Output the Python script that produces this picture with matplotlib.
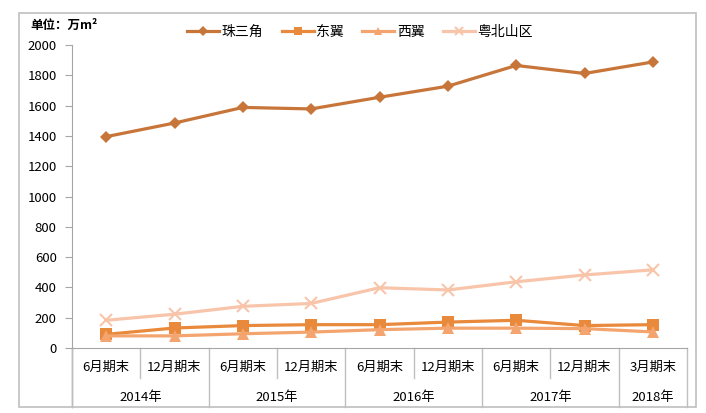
import numpy as np
import matplotlib
matplotlib.use('Agg')
import matplotlib.pyplot as plt
from matplotlib.patches import Rectangle
from matplotlib.lines import Line2D
import matplotlib.transforms as mtransforms

plt.rcParams['font.family'] = ['Noto Sans CJK SC', 'DejaVu Sans']

# 数据（万m²）
periods = ['6月期末', '12月期末', '6月期末', '12月期末', '6月期末', '12月期末', '6月期末', '12月期末', '3月期末']
years = ['2014年', '2015年', '2016年', '2017年', '2018年']
year_spans = [2, 2, 2, 2, 1]

prd = [1395, 1485, 1588, 1578, 1655, 1728, 1865, 1812, 1888]
east = [90, 132, 148, 154, 154, 171, 183, 148, 154]
west = [80, 80, 94, 105, 121, 131, 131, 128, 106]
north = [183, 223, 275, 294, 398, 383, 437, 482, 516]

series = [
    ('珠三角', prd, '#C8753A', 'D', 6),
    ('东翼', east, '#E8893C', 's', 8),
    ('西翼', west, '#F4A46E', '^', 8),
    ('粤北山区', north, '#F8C5AA', 'x', 8),
]

W, H = 706, 413
fig = plt.figure(figsize=(W / 100, H / 100), dpi=100)
ax = fig.add_axes([72 / W, 1 - 348 / H, (687 - 72) / W, (348 - 45) / H])

x = np.arange(len(periods))
for name, vals, col, mk, ms in series:
    ax.plot(x, vals, color=col, lw=2.3, marker=mk, ms=ms, mew=1.5 if mk == 'x' else 0,
            mec=col, mfc=col, label=name, clip_on=False, zorder=3)

ax.set_xlim(-0.5, len(periods) - 0.5)
ax.set_ylim(0, 2000)
ax.set_yticks(np.arange(0, 2001, 200))
ax.tick_params(axis='y', length=5, color='#A6A6A6', labelsize=9.5, pad=6)
ax.set_xticks([])
for s in ['top', 'right']:
    ax.spines[s].set_visible(False)
ax.spines['left'].set_color('#A6A6A6')
ax.spines['bottom'].set_color('#A6A6A6')

# 分类轴表格
trans = mtransforms.blended_transform_factory(ax.transData, ax.transAxes)
axh = 348 - 45
y_mid = -(378 - 348) / axh
y_bot = -(407 - 348) / axh
grid_c = '#BFBFBF'
ax.add_line(Line2D([-0.5, -0.5], [0, y_bot], transform=trans, color='#A6A6A6', lw=1, clip_on=False))
bounds = [-0.5]
for sp in year_spans:
    bounds.append(bounds[-1] + sp)
for i in range(len(periods) + 1):
    b = i - 0.5
    if b in bounds:
        ax.add_line(Line2D([b, b], [0, y_bot], transform=trans, color=grid_c, lw=1, clip_on=False))
    else:
        ax.add_line(Line2D([b, b], [0, y_mid], transform=trans, color=grid_c, lw=1, clip_on=False))
for i, p in enumerate(periods):
    ax.text(i, -(367 - 348) / axh, p, transform=trans, ha='center', va='center', fontsize=9.5)
for j, yr in enumerate(years):
    ax.text((bounds[j] + bounds[j + 1]) / 2, -(397 - 348) / axh, yr, transform=trans,
            ha='center', va='center', fontsize=9.5)

# 单位
fig.text(30 / W, 1 - 25 / H, '单位：万m²', fontsize=9, fontweight='bold', ha='left', va='center')

ax.legend(loc='center', bbox_to_anchor=(360 / W, 1 - 32 / H), bbox_transform=fig.transFigure,
          ncol=4, frameon=False, fontsize=10, handlelength=2.3, columnspacing=1.3,
          handletextpad=0.2, markerscale=0.8)

fig.add_artist(Rectangle((19 / W, 1 - 407 / H), (696 - 19) / W, (407 - 13) / H,
                         transform=fig.transFigure, fill=False, edgecolor='#BFBFBF', lw=1.2))

fig.savefig('out.png', dpi=100)
